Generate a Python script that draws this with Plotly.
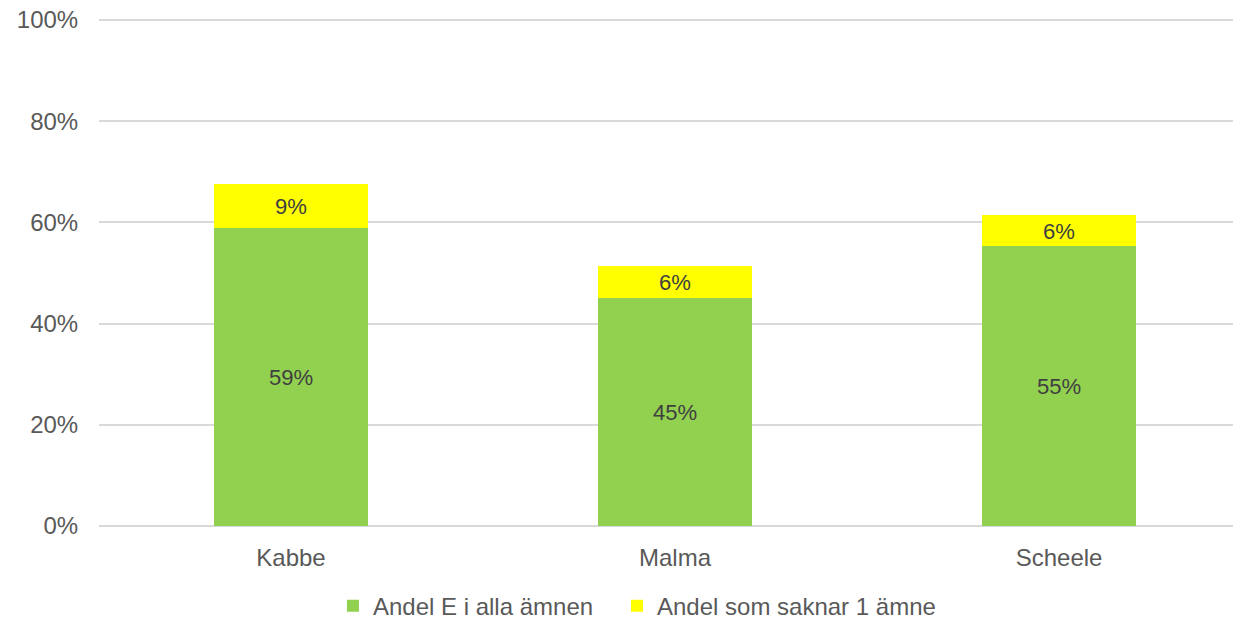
import plotly.graph_objects as go

categories = ["Kabbe", "Malma", "Scheele"]
andel_e = [58.9, 45.1, 55.3]
andel_saknar = [8.7, 6.3, 6.1]
y_ticks = [0, 20, 40, 60, 80, 100]
y_tick_labels = ["0%", "20%", "40%", "60%", "80%", "100%"]

FONT = "Liberation Sans, Arial, sans-serif"

fig = go.Figure()
fig.add_trace(go.Bar(
    x=categories, y=andel_e, name="Andel E i alla ämnen",
    marker=dict(color="#92D050", line=dict(width=0)),
    texttemplate="%{y:.0f}%", textposition="inside", insidetextanchor="middle",
    textfont=dict(color="#404040", size=24, family=FONT),
    width=0.4, legend="legend",
))
fig.add_trace(go.Bar(
    x=categories, y=andel_saknar, name="Andel som saknar 1 ämne",
    marker=dict(color="#FFFF00", line=dict(width=0)),
    texttemplate="%{y:.0f}%", textposition="inside", insidetextanchor="middle",
    textfont=dict(color="#404040", size=24, family=FONT),
    width=0.4, legend="legend2",
))

legend_common = dict(orientation="h", xanchor="left", y=-0.158, yanchor="middle",
                     font=dict(size=24, color="#595959"), itemwidth=30,
                     bgcolor="rgba(0,0,0,0)")

fig.update_layout(
    barmode="stack",
    width=1225, height=612,
    margin=dict(l=91, r=0, t=10, b=94, autoexpand=False),
    paper_bgcolor="white", plot_bgcolor="white",
    font=dict(family=FONT, color="#595959", size=24),
    uniformtext=dict(mode="show", minsize=10),
    legend=dict(x=0.2063, **legend_common),
    legend2=dict(x=0.4568, **legend_common),
    showlegend=True,
)
fig.update_xaxes(range=[-0.5, 2.453], showgrid=False, zeroline=False, showline=False,
                 ticks="outside", ticklen=10, tickcolor="rgba(0,0,0,0)", automargin=False,
                 tickfont=dict(size=24, color="#595959"))
fig.update_yaxes(range=[0, 100.4], tickvals=y_ticks, ticktext=y_tick_labels,
                 showgrid=True, gridcolor="#D9D9D9", gridwidth=1.5,
                 zeroline=True, zerolinecolor="#D9D9D9", zerolinewidth=1.5,
                 showline=False, ticks="outside", ticklen=15, tickcolor="rgba(0,0,0,0)",
                 automargin=False, ticklabeloverflow="allow",
                 tickfont=dict(size=24, color="#595959"))

fig.write_html("out.html")
